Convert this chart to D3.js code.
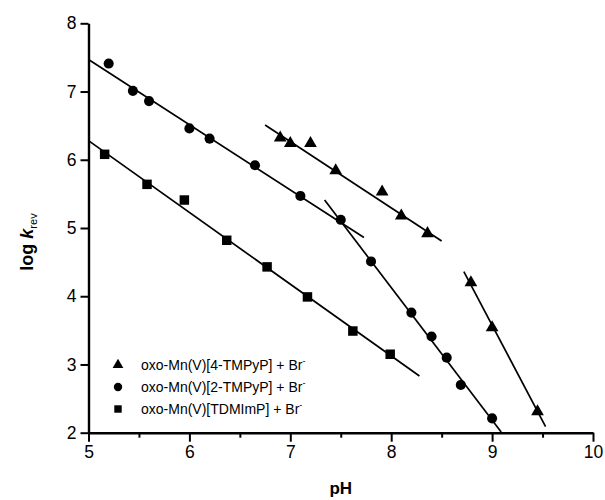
<!DOCTYPE html>
<html><head><meta charset="utf-8">
<script src="https://cdn.jsdelivr.net/npm/d3@7"></script>
<style>body{margin:0;background:#fff}text{font-family:"Liberation Sans",Arial,sans-serif}</style>
</head><body>
<svg id="c" width="605" height="500"></svg>
<script>
// data
const tri4TMPyP_pH   = [6.90, 7.00, 7.20, 7.45, 7.91, 8.10, 8.36, 8.79, 9.00, 9.45];
const tri4TMPyP_logk = [6.32, 6.24, 6.24, 5.84, 5.53, 5.18, 4.92, 4.20, 3.54, 2.31];
const circ2TMPyP_pH   = [5.20, 5.44, 5.60, 6.00, 6.20, 6.65, 7.10, 7.50, 7.80, 8.20, 8.40, 8.55, 8.69, 9.00];
const circ2TMPyP_logk = [7.41, 7.01, 6.86, 6.46, 6.31, 5.92, 5.47, 5.12, 4.51, 3.76, 3.41, 3.10, 2.70, 2.21];
const sqTDMImP_pH   = [5.16, 5.58, 5.95, 6.37, 6.77, 7.17, 7.62, 7.99];
const sqTDMImP_logk = [6.08, 5.64, 5.41, 4.82, 4.43, 3.99, 3.49, 3.15];
// linear fit segments: [x1, y1, x2, y2]
const fitTri1  = [6.75, 6.51, 8.50, 4.81];
const fitTri2  = [8.72, 4.36, 9.53, 2.09];
const fitCirc1 = [5.00, 7.47, 7.73, 4.86];
const fitCirc2 = [7.34, 5.41, 9.09, 2.01];
const fitSq    = [5.00, 6.28, 8.28, 2.83];
const xTicks = [5, 6, 7, 8, 9, 10];
const xMinorTicks = [5.5, 6.5, 7.5, 8.5, 9.5];
const yTicks = [2, 3, 4, 5, 6, 7, 8];
const legendLabels = ["oxo-Mn(V)[4-TMPyP] + Br", "oxo-Mn(V)[2-TMPyP] + Br", "oxo-Mn(V)[TDMImP] + Br"];

const svg = d3.select("#c");
const x = d3.scaleLinear().domain([5, 10]).range([88.5, 593]);
const y = d3.scaleLinear().domain([2, 8]).range([432.7, 23.3]);

// fit lines
const g = svg.append("g");
[fitTri1, fitTri2, fitCirc1, fitCirc2, fitSq].forEach(f => {
  g.append("line").attr("x1", x(f[0])).attr("y1", y(f[1])).attr("x2", x(f[2])).attr("y2", y(f[3]))
    .attr("stroke", "#000").attr("stroke-width", 1.7);
});

const triSym = d3.symbol().type(d3.symbolTriangle);
const circSym = d3.symbol().type(d3.symbolCircle);
const sqSym = d3.symbol().type(d3.symbolSquare);

g.selectAll(".tri").data(d3.zip(tri4TMPyP_pH, tri4TMPyP_logk)).join("path")
  .attr("d", triSym.size(70)()).attr("transform", d => `translate(${x(d[0])},${y(d[1])})`).attr("fill", "#000");
g.selectAll(".circ").data(d3.zip(circ2TMPyP_pH, circ2TMPyP_logk)).join("path")
  .attr("d", circSym.size(80)()).attr("transform", d => `translate(${x(d[0])},${y(d[1])})`).attr("fill", "#000");
g.selectAll(".sq").data(d3.zip(sqTDMImP_pH, sqTDMImP_logk)).join("path")
  .attr("d", sqSym.size(90)()).attr("transform", d => `translate(${x(d[0])},${y(d[1])})`).attr("fill", "#000");

// axes
svg.append("g").attr("transform", `translate(0,${y(2)})`)
  .call(d3.axisBottom(x).tickValues(xTicks).tickFormat(d3.format("d")).tickSizeInner(9).tickSizeOuter(0).tickPadding(4));
svg.append("g").attr("transform", `translate(0,${y(2)})`)
  .call(d3.axisBottom(x).tickValues(xMinorTicks).tickFormat("").tickSizeInner(5).tickSizeOuter(0))
  .call(a => a.select(".domain").remove());
svg.append("g").attr("transform", `translate(${x(5)},0)`)
  .call(d3.axisLeft(y).tickValues(yTicks).tickFormat(d3.format("d")).tickSizeInner(8).tickSizeOuter(0).tickPadding(4));
svg.selectAll(".domain").attr("stroke", "#000").attr("stroke-width", 2.4);
svg.selectAll(".tick line").attr("stroke", "#000").attr("stroke-width", 2);
svg.selectAll(".tick text").attr("font-family", "Liberation Sans, Arial, sans-serif").attr("font-size", 17.5).attr("fill", "#000");

// axis titles
svg.append("text").attr("x", (x(5) + x(10)) / 2).attr("y", 494).attr("text-anchor", "middle")
  .attr("font-size", 17).attr("font-weight", "bold").text("pH");
const yt = svg.append("text").attr("transform", `translate(33,${(y(2)+y(8))/2 + 14}) rotate(-90)`)
  .attr("text-anchor", "middle").attr("font-size", 18).attr("font-weight", "bold");
yt.append("tspan").text("log ");
yt.append("tspan").attr("font-style", "italic").text("k");
yt.append("tspan").attr("font-size", 11).attr("font-weight", "normal").attr("dy", 4).text("rev");

// legend
const legSyms = [triSym.size(50)(), circSym.size(55)(), sqSym.size(55)()];
const leg = svg.append("g");
legendLabels.forEach((lab, i) => {
  const ly = 365 + i * 22;
  leg.append("path").attr("d", legSyms[i]).attr("transform", `translate(118,${ly})`).attr("fill", "#000");
  const t = leg.append("text").attr("x", 141).attr("y", ly + 5).attr("font-size", 14).attr("fill", "#000");
  t.append("tspan").text(lab);
  t.append("tspan").attr("font-size", 9).attr("dy", -6).text("-");
});
</script>
</body></html>
